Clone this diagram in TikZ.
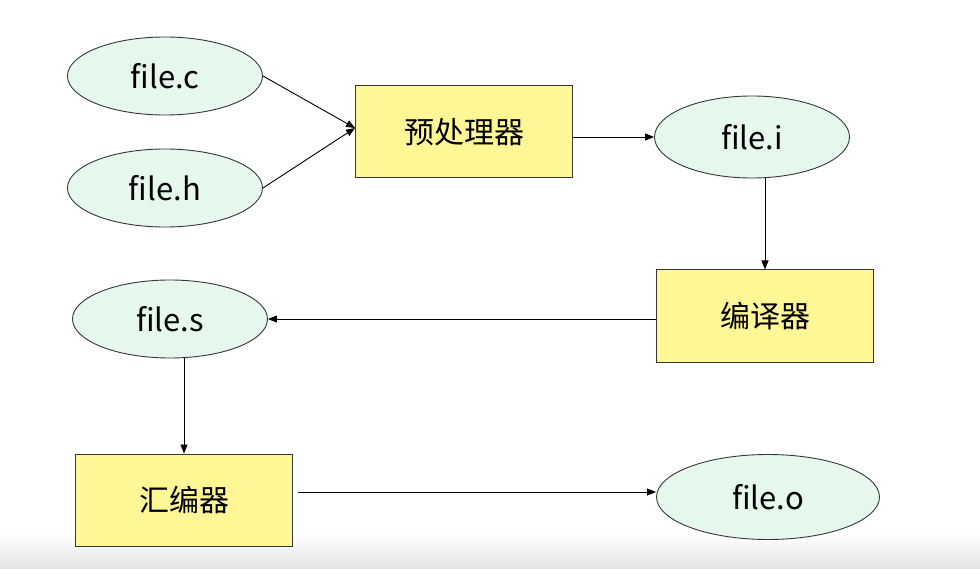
\documentclass[tikz,border=0pt]{standalone}
\usepackage{fontspec}
\setmainfont{Noto Sans CJK SC}
\usetikzlibrary{shapes.geometric,arrows.meta}
\definecolor{filegreen}{RGB}{230,248,238}
\definecolor{toolyellow}{RGB}{255,246,150}
\definecolor{edgegray}{RGB}{55,55,55}
\tikzset{
  filenode/.style={ellipse,draw=edgegray,fill=filegreen,line width=0.9pt,minimum width=195pt,minimum height=78pt,font=\fontsize{31}{36}\selectfont},
  toolnode/.style={rectangle,draw=edgegray,fill=toolyellow,line width=1pt,minimum width=217pt,minimum height=92pt,font=\fontsize{30}{36}\selectfont},
  flow/.style={-{Triangle[length=9pt,width=7pt]},line width=0.9pt,black}
}

\begin{document}
\begin{tikzpicture}[x=1pt,y=-1pt]
%% page and bottom band
\useasboundingbox (0,0) rectangle (980,569);
\fill[white] (0,0) rectangle (980,569);
\shade[top color=white,bottom color=gray!22] (0,533) rectangle (980,569);
%the nodes
\node [filenode] (fileC) at (165,76) {file.c};
\node [filenode] (fileH) at (165,188) {file.h};
\node [toolnode] (pre) at (464,132) {预处理器};
\node [filenode,minimum height=82pt] (fileI) at (752,137) {file.i};
\node [toolnode] (comp) at (765,316) {编译器};
\node [filenode] (fileS) at (170,319) {file.s};
\node [toolnode] (asm) at (184,500) {汇编器};
\node [filenode,minimum width=223pt,minimum height=85pt] (fileO) at (768,497) {file.o};
%drawings of lines
\draw[flow] (fileC.east) -- ([yshift=4pt]pre.west);
\draw[flow] (fileH.east) -- ([yshift=4pt]pre.west);
\draw[flow] (pre.east |- fileI) -- (fileI.west);
\draw[flow] (fileI.south -| comp.north) -- (comp.north);
\draw[flow] (comp.west |- fileS) -- (fileS.east);
\draw[flow] (fileS.south -| asm.north) -- (asm.north);
\draw[flow,shorten <=5pt] ([yshift=5pt]fileO.west -| asm.east) -- ([yshift=5pt]fileO.west);

\end{tikzpicture}
\end{document}
